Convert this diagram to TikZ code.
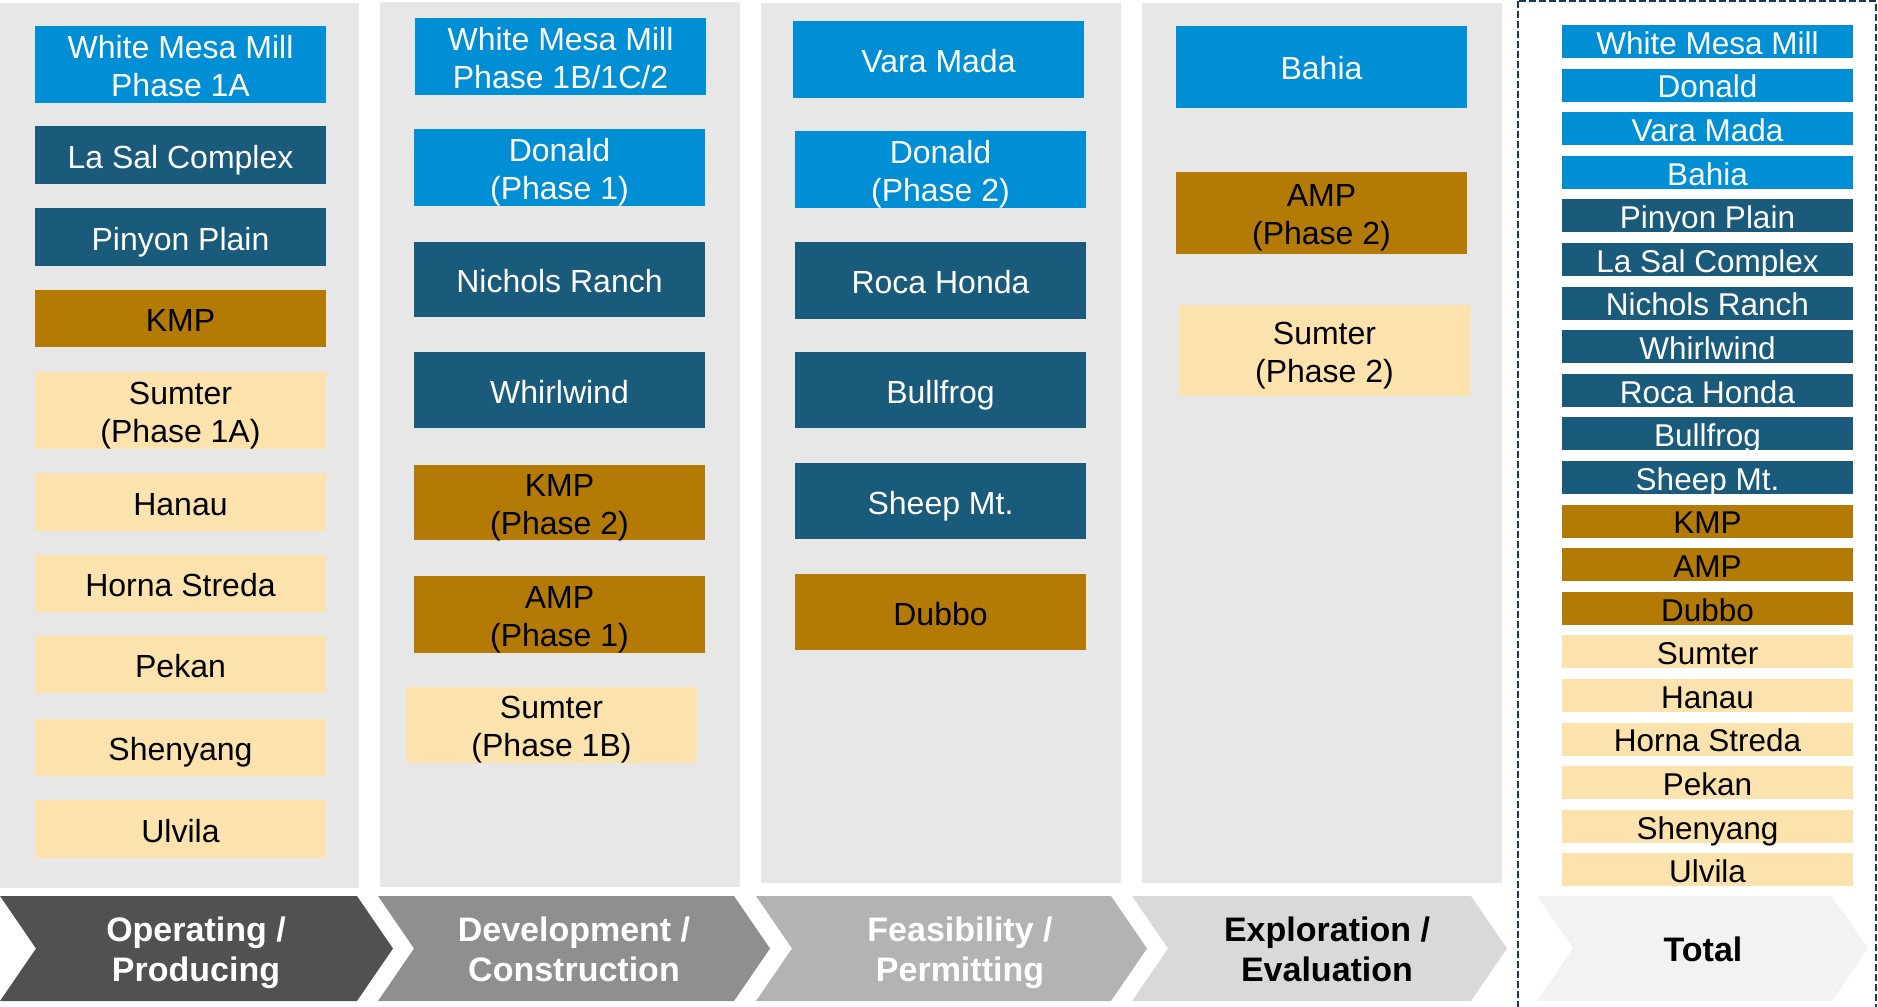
\documentclass[tikz,border=0pt]{standalone}
\usepackage{fontspec}
\setmainfont{Liberation Sans}
\definecolor{lblue}{HTML}{008FD5}
\definecolor{dblue}{HTML}{1A5A7B}
\definecolor{gold}{HTML}{B37A06}
\definecolor{cream}{HTML}{FCE2AC}
\definecolor{panel}{HTML}{E7E7E7}
\definecolor{navy}{HTML}{17375E}
\definecolor{chA}{HTML}{515151}
\definecolor{chB}{HTML}{8F8F8F}
\definecolor{chC}{HTML}{B3B3B3}
\definecolor{chD}{HTML}{D9D9D9}
\definecolor{chE}{HTML}{F2F2F2}
\tikzset{
  boxshape/.style={rectangle, inner sep=0pt, outer sep=0pt, draw=none},
  onetext/.style={inner sep=0pt, font=\fontsize{32}{38}\selectfont, text height=23pt, text depth=0pt, yshift=-1.5pt},
  twotext/.style={inner sep=0pt, align=center, font=\fontsize{32}{38}\selectfont, yshift=-4.5pt},
  tottext/.style={inner sep=0pt, font=\fontsize{31.5}{37}\selectfont, text height=22.6pt, text depth=0pt, yshift=-1.5pt},
  chevtext/.style={inner sep=0pt, align=center, font=\fontsize{34}{40}\selectfont\bfseries, yshift=-3.8pt},
  chevone/.style={inner sep=0pt, font=\fontsize{34}{40}\selectfont\bfseries, text height=24.3pt, text depth=0pt, yshift=-0.5pt},
  dashbox/.style={draw=navy, line width=2pt, dash pattern=on 7pt off 3pt}
}
% name, fill, text colour, x1, y1, x2, y2, text
\newcommand\mybox[8]{%
  \node[boxshape, fill=#2, minimum width={(#6-#4)*1pt}, minimum height={(#7-#5)*1pt}] (#1) at ({(#4+#6)/2},{(#5+#7)/2}) {};
  \node[onetext, text=#3] (#1t) at (#1.center) {#8};}
\newcommand\myboxii[8]{%
  \node[boxshape, fill=#2, minimum width={(#6-#4)*1pt}, minimum height={(#7-#5)*1pt}] (#1) at ({(#4+#6)/2},{(#5+#7)/2}) {};
  \node[twotext, text=#3] (#1t) at (#1.center) {#8};}
\newcommand\ph{\vphantom{(}}
\newcommand\chev[3]{%
  \fill[#3] (#1,896) -- (#2,896) -- ({#2+36},948.5) -- (#2,1001) -- (#1,1001) -- ({#1+36},948.5) -- cycle;}
\begin{document}
\begin{tikzpicture}[x=1pt,y=-1pt]
\useasboundingbox (0,0) rectangle (1878,1006);
% panels
\fill[panel] (0,3) rectangle (359,888);
\fill[panel] (380,2) rectangle (740,887);
\fill[panel] (761,3) rectangle (1121,883);
\fill[panel] (1142,3) rectangle (1502,883);
% dashed total frame
\draw[dashbox] (1518,1) rectangle (1876,1012);
% chevrons
\chev{0}{357}{chA}
\chev{378}{734}{chB}
\chev{756}{1111}{chC}
\chev{1132}{1471}{chD}
\chev{1537}{1832}{chE}
\node[chevtext, text=white] (ch1) at (196,948.5) {Operating /\\Producing\vphantom{g}};
\node[chevtext, text=white] (ch2) at (574,948.5) {Development /\\Construction\vphantom{g}};
\node[chevtext, text=white] (ch3) at (960,948.5) {Feasibility /\\Permitting\vphantom{g}};
\node[chevtext, text=black] (ch4) at (1327,948.5) {Exploration /\\Evaluation\vphantom{g}};
\node[chevone, text=black] (ch5) at (1703,948.5) {Total};
% column 1
\myboxii{a1}{lblue}{white}{35}{26}{326}{103}{White Mesa Mill\ph\\Phase 1A\ph}
\mybox{a2}{dblue}{white}{35}{126}{326}{184}{La Sal Complex}
\mybox{a3}{dblue}{white}{35}{208}{326}{266}{Pinyon Plain}
\mybox{a4}{gold}{black}{35}{290}{326}{347}{KMP}
\myboxii{a5}{cream}{black}{35}{372}{326}{449}{Sumter\ph\\(Phase 1A)}
\mybox{a6}{cream}{black}{35}{473}{326}{531}{Hanau}
\mybox{a7}{cream}{black}{35}{555}{326}{612}{Horna Streda}
\mybox{a8}{cream}{black}{35}{636}{326}{693}{Pekan}
\mybox{a9}{cream}{black}{35}{719}{326}{776}{Shenyang}
\mybox{a10}{cream}{black}{35}{800}{326}{858}{Ulvila}
% column 2
\myboxii{b1}{lblue}{white}{415}{18}{706}{95}{White Mesa Mill\ph\\Phase 1B/1C/2\ph}
\myboxii{b2}{lblue}{white}{414}{129}{705}{206}{Donald\ph\\(Phase 1)}
\mybox{b3}{dblue}{white}{414}{242}{705}{317}{Nichols Ranch}
\mybox{b4}{dblue}{white}{414}{352}{705}{428}{Whirlwind}
\myboxii{b5}{gold}{black}{414}{465}{705}{540}{KMP\ph\\(Phase 2)}
\myboxii{b6}{gold}{black}{414}{576}{705}{653}{AMP\ph\\(Phase 1)}
\myboxii{b7}{cream}{black}{406}{687}{697}{763}{Sumter\ph\\(Phase 1B)}
% column 3
\mybox{c1}{lblue}{white}{793}{21}{1084}{98}{Vara Mada}
\myboxii{c2}{lblue}{white}{795}{131}{1086}{208}{Donald\ph\\(Phase 2)}
\mybox{c3}{dblue}{white}{795}{242}{1086}{319}{Roca Honda}
\mybox{c4}{dblue}{white}{795}{352}{1086}{428}{Bullfrog}
\mybox{c5}{dblue}{white}{795}{463}{1086}{539}{Sheep Mt.}
\mybox{c6}{gold}{black}{795}{574}{1086}{650}{Dubbo}
% column 4
\mybox{d1}{lblue}{white}{1176}{26}{1467}{108}{Bahia}
\myboxii{d2}{gold}{black}{1176}{172}{1467}{254}{AMP\ph\\(Phase 2)}
\myboxii{d3}{cream}{black}{1179}{305}{1470}{396}{Sumter\ph\\(Phase 2)}
% total list
\foreach \i/\c/\tc/\t in {0/lblue/white/White Mesa Mill, 1/lblue/white/Donald, 2/lblue/white/Vara Mada, 3/lblue/white/Bahia, 4/dblue/white/Pinyon Plain, 5/dblue/white/La Sal Complex, 6/dblue/white/Nichols Ranch, 7/dblue/white/Whirlwind, 8/dblue/white/Roca Honda, 9/dblue/white/Bullfrog, 10/dblue/white/Sheep Mt., 11/gold/black/KMP, 12/gold/black/AMP, 13/gold/black/Dubbo, 14/cream/black/Sumter, 15/cream/black/Hanau, 16/cream/black/Horna Streda, 17/cream/black/Pekan, 18/cream/black/Shenyang, 19/cream/black/Ulvila}{
  \pgfmathsetmacro\yc{25+\i*43.6+16.5}
  \node[boxshape, fill=\c, minimum width=291pt, minimum height=33pt] (tot\i) at (1707.5,\yc) {};
  \node[tottext, text=\tc] (tot\i t) at (tot\i.center) {\t};
}
\end{tikzpicture}
\end{document}
